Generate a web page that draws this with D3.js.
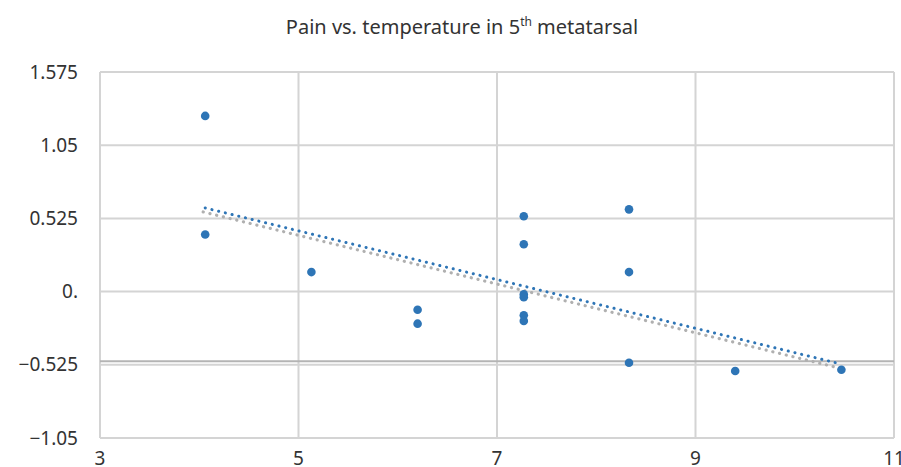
<!DOCTYPE html>
<html>
<head>
<meta charset="utf-8">
<script src="https://cdn.jsdelivr.net/npm/d3@7"></script>
<style>
  body { margin: 0; background: #fff; }
  text { font-family: "Noto Sans", sans-serif; fill: #333; }
</style>
</head>
<body>
<div id="chart"></div>
<script>
// temperature (x) vs pain (y)
const temperature = [4.06, 4.06, 5.13, 6.2, 6.2, 7.27, 7.27, 7.27, 7.27, 7.27, 7.27, 8.33, 8.33, 8.33, 9.4, 10.47];
const pain        = [1.26, 0.41, 0.14, -0.13, -0.23, 0.54, 0.34, -0.02, -0.04, -0.17, -0.21, 0.59, 0.14, -0.51, -0.57, -0.56];

// linear trendline endpoints
const trendX = [4.06, 10.47];
const trendY = [0.60, -0.52];

const xTicks = [3, 5, 7, 9, 11];
const yTicks = [1.575, 1.05, 0.525, 0, -0.525, -1.05];
const yTickLabels = ["1.575", "1.05", "0.525", "0.", "\u22120.525", "\u22121.05"];
const axisCross = -0.5;

let width = 901, height = 467;
let margin = { top: 72, right: 7, bottom: 29, left: 100 };
let w = width - margin.left - margin.right;
let h = height - margin.top - margin.bottom;

let svg = d3.select("#chart").append("svg")
    .attr("width", width)
    .attr("height", height);

// title
let title = svg.append("text")
    .attr("x", 462)
    .attr("y", 34)
    .attr("text-anchor", "middle")
    .style("font-size", "20px");
title.append("tspan").text("Pain vs. temperature in 5");
title.append("tspan").text("th").attr("dy", -8).style("font-size", "12px");
title.append("tspan").text(" metatarsal").attr("dy", 8);

let g = svg.append("g").attr("transform", `translate(${margin.left},${margin.top})`);

let x = d3.scaleLinear().domain([3, 11]).range([0, w]);
let y = d3.scaleLinear().domain([-1.05, 1.575]).range([h, 0]);

// gridlines
g.selectAll(".vgrid")
    .data(xTicks)
    .enter().append("line")
    .attr("class", "vgrid")
    .attr("x1", d => x(d)).attr("x2", d => x(d))
    .attr("y1", 0).attr("y2", h)
    .attr("stroke", "#d4d4d4")
    .attr("stroke-width", 2);

g.selectAll(".hgrid")
    .data(yTicks)
    .enter().append("line")
    .attr("class", "hgrid")
    .attr("x1", 0).attr("x2", w)
    .attr("y1", d => y(d)).attr("y2", d => y(d))
    .attr("stroke", "#d4d4d4")
    .attr("stroke-width", 2);

// horizontal axis line
g.append("line")
    .attr("x1", 0).attr("x2", w)
    .attr("y1", y(axisCross)).attr("y2", y(axisCross))
    .attr("stroke", "#b4b4b4")
    .attr("stroke-width", 2);

// tick labels
g.selectAll(".ylab")
    .data(yTicks)
    .enter().append("text")
    .attr("class", "ylab")
    .attr("x", -22)
    .attr("y", d => y(d))
    .attr("dy", "0.35em")
    .attr("text-anchor", "end")
    .style("font-size", "19px")
    .text((d, i) => yTickLabels[i]);

g.selectAll(".xlab")
    .data(xTicks)
    .enter().append("text")
    .attr("class", "xlab")
    .attr("x", d => x(d))
    .attr("y", h + 27)
    .attr("text-anchor", "middle")
    .style("font-size", "19px")
    .text(d => d);

// trendline (shadow + line)
let line = d3.line().x(d => x(d[0])).y(d => y(d[1]));
let trend = trendX.map((d, i) => [d, trendY[i]]);

g.append("path")
    .datum(trend)
    .attr("d", line)
    .attr("transform", "translate(-2,4)")
    .attr("fill", "none")
    .attr("stroke", "#b0b0b0")
    .attr("stroke-width", 3.2)
    .attr("stroke-linecap", "round")
    .attr("stroke-dasharray", "0.1,6.8");

g.append("path")
    .datum(trend)
    .attr("d", line)
    .attr("fill", "none")
    .attr("stroke", "#2e75b6")
    .attr("stroke-width", 3)
    .attr("stroke-linecap", "round")
    .attr("stroke-dasharray", "0.1,6.8");

// points
g.selectAll(".pt")
    .data(temperature)
    .enter().append("circle")
    .attr("class", "pt")
    .attr("cx", d => x(d))
    .attr("cy", (d, i) => y(pain[i]))
    .attr("r", 4.3)
    .attr("fill", "#2e75b6");
</script>
</body>
</html>
